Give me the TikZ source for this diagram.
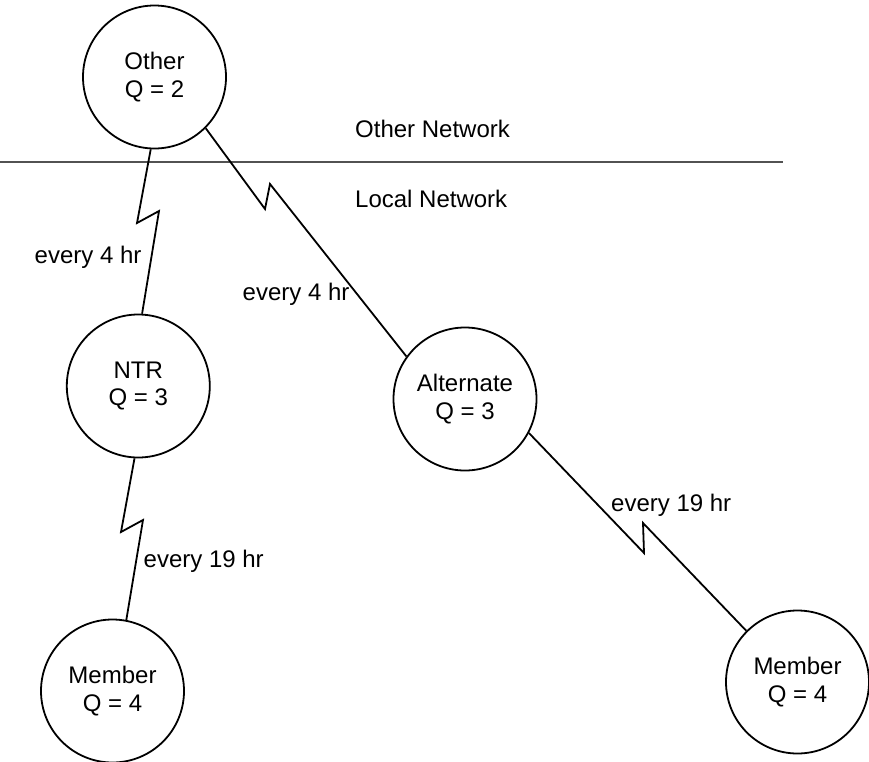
\documentclass[tikz,border=0pt]{standalone}
\usepackage{fontspec}
\setmainfont{Liberation Sans}
\begin{document}
\begin{tikzpicture}[x=1pt,y=-1pt,
  every node/.style={font=\fontsize{24}{27.6}\selectfont},
  site/.style={circle,draw,line width=1.8pt,minimum size=143pt,inner sep=0pt,align=center},
  link/.style={line width=1.8pt,line join=miter},
  lbl/.style={anchor=base west,inner sep=0pt},
  divider/.style={line width=2.2pt,draw=black!68}]
\useasboundingbox (0,0) rectangle (869,761);
\node[site] (other) at (154.5,77) {Other\\Q = 2};
\node[site] (ntr) at (138.3,386) {NTR\\Q = 3};
\node[site] (alt) at (465,399) {Alternate\\Q = 3};
\node[site] (mem1) at (112.5,691) {Member\\Q = 4};
\node[site] (mem2) at (797.5,682) {Member\\Q = 4};
\coordinate (lineL) at (0,162);
\coordinate (lineR) at (783,162);
\draw[divider] (lineL) -- (lineR);
\node[lbl] (othernet) at (355,137) {Other Network};
\node[lbl] (localnet) at (355,207) {Local Network};
\coordinate (a1) at (137,223);
\coordinate (a2) at (159,211);
\coordinate (b1) at (265,209);
\coordinate (b2) at (270,184);
\coordinate (c1) at (121,532);
\coordinate (c2) at (143,520);
\coordinate (d1) at (644,553);
\coordinate (d2) at (643,523);
\draw[link] (other.-93) -- (a1) -- (a2) -- (ntr.87);
\draw[link] (other.-45) -- (b1) -- (b2) -- (alt.144);
\draw[link] (ntr.-93) -- (c1) -- (c2) -- (mem1.79);
\draw[link] (alt.-28) -- (d1) -- (d2) -- (mem2.135);
\node[lbl] (l1) at (34.5,263) {every 4 hr};
\node[lbl] (l2) at (242.5,300) {every 4 hr};
\node[lbl] (l3) at (143.5,567) {every 19 hr};
\node[lbl] (l4) at (611,511) {every 19 hr};
\end{tikzpicture}
\end{document}
